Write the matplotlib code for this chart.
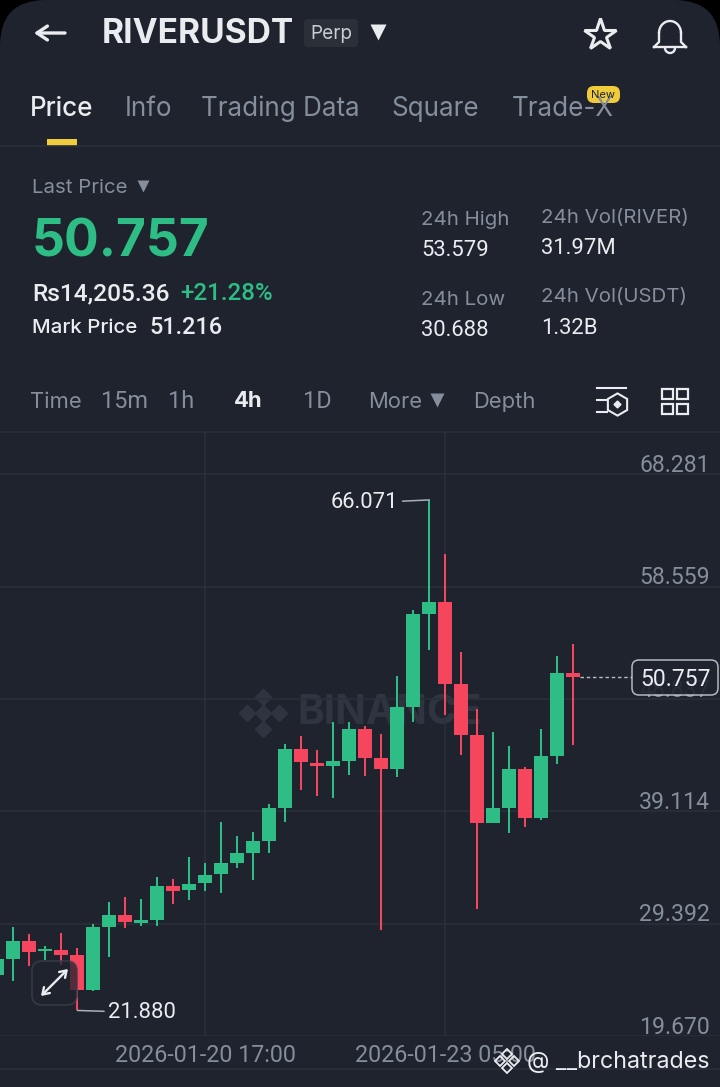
import matplotlib
matplotlib.use("Agg")
import matplotlib.pyplot as plt
from matplotlib.patches import FancyBboxPatch, Rectangle, Arc

plt.rcParams['font.family'] = ['Inter', 'DejaVu Sans']

# candles, 4h each
opens = [24.95, 26.34, 27.92, 27.00, 27.14, 26.68, 23.65, 29.13, 30.17, 29.48, 29.71, 32.68, 32.29,
         32.89, 33.67, 34.67, 35.54, 36.55, 39.38, 44.49, 43.33, 43.04, 43.48, 46.27, 43.74, 42.76,
         48.15, 56.17, 57.26, 50.11, 45.73, 38.08, 39.38, 42.76, 38.52, 43.91, 51.09]
highs = [27.11, 29.13, 28.47, 27.46, 28.61, 27.32, 29.34, 31.27, 31.68, 31.50, 33.43, 33.29, 35.19,
         34.62, 38.19, 36.98, 37.30, 39.78, 44.92, 45.66, 44.43, 46.88, 46.88, 46.50, 45.79, 50.81,
         56.57, 66.071, 61.42, 52.94, 47.95, 46.01, 44.80, 42.93, 46.22, 52.59, 53.579]
lows = [24.09, 24.46, 25.76, 26.25, 25.82, 21.880, 23.59, 26.49, 29.05, 29.19, 29.19, 31.12, 31.47,
        32.25, 32.03, 34.19, 33.17, 35.51, 38.19, 40.97, 40.45, 40.30, 42.26, 42.20, 28.85, 42.12,
        46.85, 53.08, 47.46, 43.97, 30.64, 38.08, 37.22, 37.79, 38.37, 43.19, 44.83]
closes = [26.34, 27.92, 26.97, 27.17, 26.66, 23.65, 29.13, 30.15, 29.51, 29.71, 32.66, 32.25, 32.86,
          33.63, 34.67, 35.51, 36.52, 39.38, 44.49, 43.36, 43.04, 43.48, 46.25, 43.71, 42.76, 48.15,
          56.17, 57.26, 50.11, 45.73, 38.08, 39.38, 42.76, 38.52, 43.91, 51.07, 50.757]

price_ticks = [68.281, 58.559, 48.837, 39.114, 29.392, 19.670]
date_ticks = [13, 28]
date_labels = ["2026-01-20 17:00", "2026-01-23 05:00"]

BG = "#1e232d"
LINE = "#2a2f38"
GREY = "#848e9c"
WHITE = "#eaecef"
GREEN = "#2ebd85"
RED = "#f6465d"
YELLOW = "#f0cb3c"
NUM_FONT = ['Roboto', 'DejaVu Sans']  # digits all one width, like the app

fig = plt.figure(figsize=(7.2, 10.87), dpi=100, facecolor="black")

# page behind the chart, in pixels
ui = fig.add_axes([0, 0, 1, 1], zorder=0)
ui.set_xlim(0, 720)
ui.set_ylim(1087, 0)
ui.axis("off")


def label(a, x, y, s, px, color=GREY, ha="left", weight="normal", family=None):
    a.text(x, y + 2, s, fontsize=px * 0.72, color=color, ha=ha, va="center", fontweight=weight,
           family=family or plt.rcParams['font.family'])


ui.add_patch(FancyBboxPatch((0, 0), 720, 1300, boxstyle="round,pad=0,rounding_size=46",
                            fc=BG, ec="none"))

# header
ui.annotate("", xy=(34, 33), xytext=(65, 33),
            arrowprops=dict(arrowstyle="->,head_length=0.75,head_width=0.5", color=WHITE, lw=2.4,
                            shrinkA=0, shrinkB=0))
label(ui, 102, 32, "RIVERUSDT", 33.5, WHITE, weight="bold")
ui.add_patch(FancyBboxPatch((304, 19), 54, 28, boxstyle="round,pad=0,rounding_size=4",
                            fc="#2a2f38", ec="none"))
label(ui, 310, 32, "Perp", 19, "#c9ced6")
ui.plot([378], [32], marker="v", ms=11, color=WHITE, mec="none")
ui.plot([600], [35], marker="*", ms=24, mfc="none", mec=WHITE, mew=2.2)

# bell
ui.plot([654, 659, 659], [47, 42, 33], color=WHITE, lw=1.7)
ui.plot([686, 681, 681], [47, 42, 33], color=WHITE, lw=1.7)
ui.plot([654, 686], [47, 47], color=WHITE, lw=1.7)
ui.add_patch(Arc((670, 33), 22, 24, theta1=180, theta2=360, color=WHITE, lw=1.7))
ui.add_patch(Arc((670, 48), 10, 10, theta1=0, theta2=180, color=WHITE, lw=1.7))

# tabs
label(ui, 30, 107, "Price", 26, WHITE, weight="medium")
for x, s in [(125, "Info"), (201, "Trading Data"), (391, "Square"), (512, "Trade-X")]:
    label(ui, x, 107, s, 26, GREY)
ui.add_patch(FancyBboxPatch((587, 86), 33, 17, boxstyle="round,pad=0,rounding_size=7",
                            fc=YELLOW, ec="none"))
ui.text(603.5, 94.5, "New", fontsize=8, color="#1e232d", ha="center", va="center")
ui.add_patch(Rectangle((47, 139), 30, 7, fc=YELLOW, ec="none"))
ui.plot([0, 720], [146, 146], color=LINE, lw=1.2)

# price block
label(ui, 32, 186, "Last Price", 20.5)
ui.plot([143], [186], marker="v", ms=9, color=GREY, mec="none")
label(ui, 32, 241, "50.757", 51.5, GREEN, weight="bold")
label(ui, 32, 292, "Rs14,205.36", 24.5, WHITE, weight="medium", family=NUM_FONT)
label(ui, 180, 292, "+21.28%", 24, GREEN, weight="medium", family=NUM_FONT)
label(ui, 32, 326, "Mark Price", 20.5, WHITE, weight="medium")
label(ui, 149, 326, "51.216", 23.5, WHITE, weight="medium", family=NUM_FONT)
label(ui, 421, 218, "24h High", 20.5)
label(ui, 421, 249, "53.579", 22, WHITE, family=NUM_FONT)
label(ui, 421, 298, "24h Low", 20.5)
label(ui, 421, 329, "30.688", 22, WHITE, family=NUM_FONT)
label(ui, 541, 216, "24h Vol(RIVER)", 20.5)
label(ui, 541, 246, "31.97M", 22, WHITE, family=NUM_FONT)
label(ui, 541, 295, "24h Vol(USDT)", 20.5)
label(ui, 541, 326, "1.32B", 22, WHITE, family=NUM_FONT)

# interval row
for x, s in [(30, "Time"), (368, "More"), (473, "Depth")]:
    label(ui, x, 400, s, 22)
for x, s in [(101, "15m"), (168, "1h"), (303, "1D")]:
    label(ui, x, 400, s, 23.5, family=NUM_FONT)
label(ui, 234, 399, "4h", 22, WHITE, weight="bold")
ui.plot([437], [400], marker="v", ms=10, color=GREY, mec="none")

# indicator icon
ui.plot([597, 626], [388, 388], color=WHITE, lw=1.5)
ui.plot([597, 607], [400, 400], color=WHITE, lw=1.5)
ui.plot([597, 607], [412, 412], color=WHITE, lw=1.5)
ui.plot([617], [404], marker="h", ms=16, mfc="none", mec=WHITE, mew=1.5)
ui.plot([617], [404], marker="D", ms=3.5, color=WHITE)

# layout icon
for x in (662, 677):
    for y in (389, 404):
        ui.add_patch(Rectangle((x, y), 10.5, 9.5, fc="none", ec=WHITE, lw=1.6))

ui.plot([0, 720], [431.5, 431.5], color=LINE, lw=1.2)
ui.plot([0, 720], [1068.5, 1068.5], color=LINE, lw=1.2)

# watermark sits under the candles
for x, y in [(263, 697), (263, 729), (247, 713), (279, 713), (263, 713)]:
    ui.plot([x], [y], marker="D", ms=9.5, color="#2f3540", mec="none")
label(ui, 297, 711, "BINANCE", 40.5, "#2f3540", weight="bold")

# dates, footer
for i, s in zip(date_ticks, date_labels):
    label(ui, -2.7 + i * 16, 1054, s, 23.3, GREY, ha="center", family=NUM_FONT)

# chart
ax = fig.add_axes([0, 51 / 1087, 1, 604 / 1087], zorder=1)
ax.patch.set_alpha(0)
ax.set_xlim(0.169, 45.169)
ax.set_ylim(19.67, 71.95)
for s in ax.spines.values():
    s.set_visible(False)
ax.set_xticks([])
ax.set_yticks([])

for p in price_ticks:
    ax.axhline(p, color=LINE, lw=1.2, zorder=1)
    ax.annotate(f"{p:.3f}", xy=(1, p), xycoords=("axes fraction", "data"), xytext=(-10, 9),
                textcoords="offset pixels", ha="right", va="center", fontsize=23 * 0.72, color=GREY,
                family=NUM_FONT)
for i in date_ticks:
    ax.axvline(i, color=LINE, lw=1.2, zorder=1)

idx = list(range(len(opens)))
colors = [GREEN if c >= o else RED for o, c in zip(opens, closes)]
ax.vlines(idx, lows, highs, colors=colors, lw=1.45, zorder=3)
ax.bar(idx, [abs(c - o) for o, c in zip(opens, closes)], bottom=[min(o, c) for o, c in zip(opens, closes)],
       width=0.875, color=colors, zorder=4)

# extremes
top = highs.index(max(highs))
low = lows.index(min(lows))
ax.annotate(f"{highs[top]:.3f}", xy=(top, highs[top]), xytext=(-31, -3), textcoords="offset pixels",
            ha="right", va="center", fontsize=22 * 0.72, color=WHITE, family=NUM_FONT,
            arrowprops=dict(arrowstyle="-", color="#aab0b8", lw=1.1, shrinkA=1, shrinkB=0))
ax.annotate(f"{lows[low]:.3f}", xy=(low, lows[low]), xytext=(31, -2), textcoords="offset pixels",
            ha="left", va="center", fontsize=22 * 0.72, color=WHITE, family=NUM_FONT,
            arrowprops=dict(arrowstyle="-", color="#aab0b8", lw=1.1, shrinkA=1, shrinkB=0))

# last price line and tag
ax.plot([idx[-1] + 0.45, 39.7], [closes[-1], closes[-1]], color="#b8bdc5", lw=1, ls=(0, (2.5, 2)), zorder=2)

top_ui = fig.add_axes([0, 0, 1, 1], zorder=2)
top_ui.set_xlim(0, 720)
top_ui.set_ylim(1087, 0)
top_ui.axis("off")
top_ui.patch.set_alpha(0)
top_ui.add_patch(FancyBboxPatch((632, 660), 86, 35, boxstyle="round,pad=0,rounding_size=7",
                                fc=BG, ec="#c4c8ce", lw=1.1, alpha=0.9))
top_ui.text(675.5, 680, f"{closes[-1]:.3f}", fontsize=23 * 0.72, color=WHITE, ha="center", va="center",
            family=NUM_FONT)

# expand button
top_ui.add_patch(FancyBboxPatch((32, 961), 45, 44, boxstyle="round,pad=0,rounding_size=10",
                                fc=BG, ec="#3a3f49", lw=1.3, alpha=0.75))
top_ui.annotate("", xy=(68, 969), xytext=(41, 996),
                arrowprops=dict(arrowstyle="<->,head_length=0.45,head_width=0.3", color=WHITE, lw=1.7,
                                shrinkA=0, shrinkB=0))

# square logo and handle
for x, y in [(507, 1054), (507, 1068), (500, 1061), (514, 1061)]:
    top_ui.plot([x], [y], marker="D", ms=5.5, mfc="none", mec=WHITE, mew=1.3)
label(top_ui, 527, 1060, "@ __brchatrades", 23.3, WHITE)

fig.savefig("out.png", dpi=100, facecolor="black")
